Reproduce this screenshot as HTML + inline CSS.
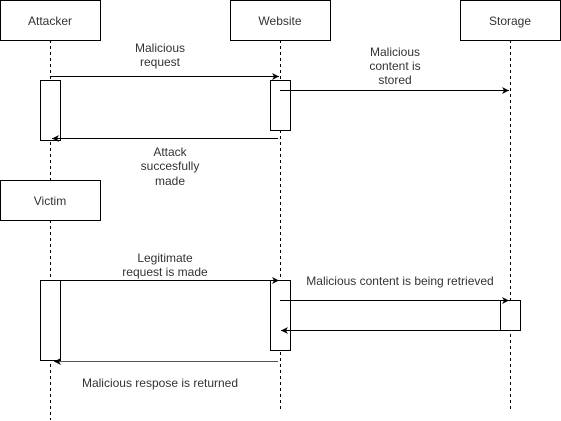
<!DOCTYPE html>
<html><head><style>
html,body{margin:0;padding:0;background:#fff;}
svg{display:block;}
text{font-family:"Liberation Sans",Arial,sans-serif;font-size:12px;fill:#333;}
</style></head><body>
<svg width="561" height="421" viewBox="0 0 561 421" xmlns="http://www.w3.org/2000/svg">
<defs>
<marker id="a" markerWidth="8" markerHeight="8" refX="7" refY="4" orient="auto" markerUnits="userSpaceOnUse">
<path d="M0,0.5 L7,4 L0,7.5 L2,4 Z" fill="#000"/>
</marker>
</defs>
<g stroke="#000" stroke-width="1" stroke-dasharray="3,3" fill="none">
<line x1="50.5" y1="40" x2="50.5" y2="180"/>
<line x1="50.5" y1="220" x2="50.5" y2="420"/>
<line x1="280.5" y1="40" x2="280.5" y2="410"/>
<line x1="510.5" y1="40" x2="510.5" y2="410"/>
</g>
<g stroke="#000" fill="#fff">
<rect x="0.5" y="0.5" width="100" height="40"/>
<rect x="230.5" y="0.5" width="100" height="40"/>
<rect x="460.5" y="0.5" width="100" height="40"/>
<rect x="0.5" y="180.5" width="100" height="40"/>
<rect x="40.5" y="80.5" width="20" height="60"/>
<rect x="270.5" y="80.5" width="20" height="50"/>
<rect x="40.5" y="280.5" width="20" height="80"/>
<rect x="270.5" y="280.5" width="20" height="70"/>
<rect x="500.5" y="300.5" width="20" height="30"/>
</g>
<g text-anchor="middle">
<text x="50" y="25">Attacker</text>
<text x="280" y="25">Website</text>
<text x="510" y="25">Storage</text>
<text x="50" y="205">Victim</text>
</g>
<g stroke="#000" stroke-width="1" fill="none" marker-end="url(#a)">
<line x1="50" y1="76.5" x2="279" y2="76.5"/>
<line x1="280" y1="90.5" x2="509" y2="90.5"/>
<line x1="278" y1="138.5" x2="52" y2="138.5"/>
<line x1="60" y1="280.5" x2="279" y2="280.5"/>
<line x1="280" y1="300.5" x2="509" y2="300.5"/>
<line x1="500" y1="330.5" x2="281" y2="330.5"/>
<line x1="278" y1="361.5" x2="54" y2="361.5" stroke="#555"/>
</g>
<g text-anchor="middle">
<text x="160" y="52">Malicious</text>
<text x="160" y="66">request</text>
<text x="395" y="56">Malicious</text>
<text x="395" y="70">content is</text>
<text x="395" y="84">stored</text>
<text x="170" y="156">Attack</text>
<text x="170" y="170">succesfully</text>
<text x="170" y="185">made</text>
<text x="165" y="262">Legitimate</text>
<text x="165" y="276">request is made</text>
<text x="400" y="285">Malicious content is being retrieved</text>
<text x="160" y="387">Malicious respose is returned</text>
</g>
</svg>
</body></html>
